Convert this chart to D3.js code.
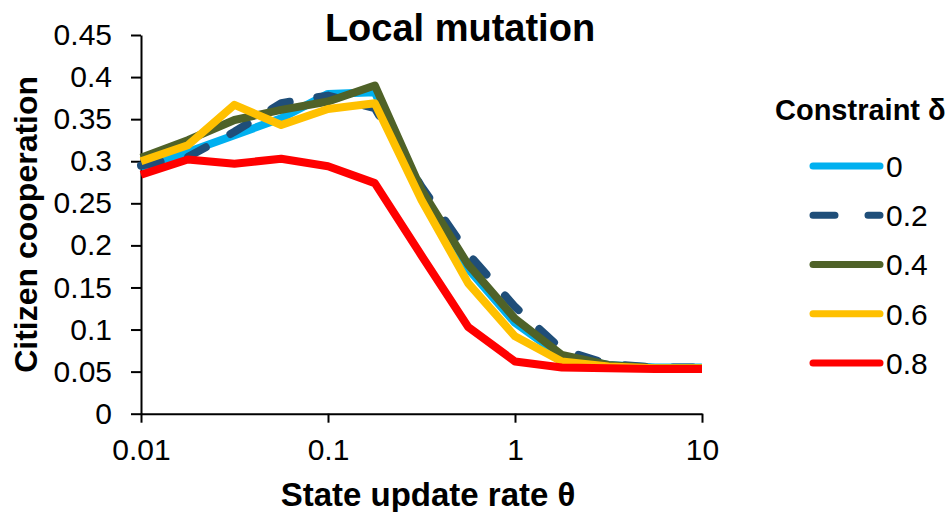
<!DOCTYPE html>
<html>
<head>
<meta charset="utf-8">
<script src="https://cdn.jsdelivr.net/npm/d3@7"></script>
<style>
	body { margin: 0; background: #fff; }
	svg text { font-family: "Liberation Sans", Arial, sans-serif; fill: #000; }
</style>
</head>
<body>
<div id="chart"></div>
<script>
/*global d3*/

//state update rate theta, 4 points per decade
var thetas = [0.01, 0.0178, 0.0316, 0.0562, 0.1, 0.178, 0.316, 0.562, 1, 1.78, 3.16, 5.62, 10];

//citizen cooperation for each constraint delta
var delta0  = [0.292, 0.311, 0.331, 0.351, 0.380, 0.382, 0.262, 0.172, 0.108, 0.068, 0.058, 0.055, 0.055];
var delta02 = [0.295, 0.305, 0.335, 0.369, 0.378, 0.363, 0.270, 0.190, 0.127, 0.076, 0.059, 0.055, 0.055];
var delta04 = [0.304, 0.325, 0.349, 0.361, 0.371, 0.390, 0.266, 0.177, 0.113, 0.070, 0.058, 0.054, 0.054];
var delta06 = [0.300, 0.319, 0.367, 0.343, 0.362, 0.369, 0.254, 0.155, 0.092, 0.062, 0.056, 0.054, 0.054];
var delta08 = [0.284, 0.302, 0.297, 0.303, 0.294, 0.274, 0.188, 0.103, 0.062, 0.055, 0.054, 0.053, 0.053];

var seriesNames = ["0", "0.2", "0.4", "0.6", "0.8"];
var seriesValues = [delta0, delta02, delta04, delta06, delta08];
var seriesColors = ["#00b0f0", "#1f4e79", "#4f6228", "#ffc000", "#ff0000"];
var seriesDashed = [false, true, false, false, false];

var xTickValues = [0.01, 0.1, 1, 10];
var xTickLabels = ["0.01", "0.1", "1", "10"];
var yTickValues = [0, 0.05, 0.1, 0.15, 0.2, 0.25, 0.3, 0.35, 0.4, 0.45];
var yTickLabels = ["0", "0.05", "0.1", "0.15", "0.2", "0.25", "0.3", "0.35", "0.4", "0.45"];

function drawChart(){
	var width = 946;
	var height = 512;

	var svg = d3.select("#chart").append("svg")
				.attr("width", width)
				.attr("height", height);

	//plot area
	var plotLeft = 141, plotRight = 702, plotTop = 35, plotBottom = 413.7;

	var x = d3.scaleLog().domain([0.01, 10]).range([plotLeft, plotRight]);
	var y = d3.scaleLinear().domain([0, 0.45]).range([plotBottom, plotTop]);

	//axes
	var xAxis = d3.axisBottom(x)
				.tickValues(xTickValues)
				.tickFormat(function(d, i){ return xTickLabels[i]; })
				.tickSize(9)
				.tickSizeOuter(0)
				.tickPadding(16);
	var yAxis = d3.axisLeft(y)
				.tickValues(yTickValues)
				.tickFormat(function(d, i){ return yTickLabels[i]; })
				.tickSize(10)
				.tickSizeOuter(0)
				.tickPadding(19);

	var xg = svg.append("g").attr("transform", "translate(0," + plotBottom + ")").call(xAxis);
	var yg = svg.append("g").attr("transform", "translate(" + plotLeft + ",0)").call(yAxis);

	[xg, yg].forEach(function(g){
		g.selectAll("path, line").attr("stroke", "#000").attr("stroke-width", 2);
		g.selectAll("text")
			.attr("fill", "#000")
			.style("font-size", "30px")
			.style("font-family", "'Liberation Sans', Arial, sans-serif");
	});

	//lines
	var line = d3.line()
				.x(function(d){ return x(d[0]); })
				.y(function(d){ return y(d[1]); });

	var lines = svg.append("g").attr("class", "series");
	seriesValues.forEach(function(vals, i){
		var pts = thetas.map(function(t, k){ return [t, vals[k]]; });
		var p = lines.append("path")
			.datum(pts)
			.attr("d", line)
			.attr("fill", "none")
			.attr("stroke", seriesColors[i])
			.attr("stroke-width", 8)
			.attr("stroke-linejoin", "round");
		if(seriesDashed[i]){
			p.attr("stroke-dasharray", "20,28")
			 .attr("stroke-linecap", "round");
		}
	});

	//titles
	svg.append("text")
		.attr("x", 460)
		.attr("y", 41)
		.attr("text-anchor", "middle")
		.style("font-size", "38px")
		.style("font-weight", "bold")
		.text("Local mutation");

	svg.append("text")
		.attr("x", 428)
		.attr("y", 506)
		.attr("text-anchor", "middle")
		.style("font-size", "33px")
		.style("font-weight", "bold")
		.text("State update rate \u03b8");

	svg.append("text")
		.attr("transform", "translate(37," + ((plotTop + plotBottom) / 2) + ") rotate(-90)")
		.attr("text-anchor", "middle")
		.style("font-size", "32px")
		.style("font-weight", "bold")
		.text("Citizen cooperation");

	//legend
	var legend = svg.append("g").attr("class", "legend");
	legend.append("text")
		.attr("x", 775)
		.attr("y", 120)
		.style("font-size", "29px")
		.style("font-weight", "bold")
		.text("Constraint \u03b4");

	var legendY = d3.scalePoint().domain(seriesNames).range([166, 363]);
	seriesNames.forEach(function(name, i){
		var ly = legendY(name);
		var l = legend.append("line")
			.attr("x1", 813).attr("x2", 880)
			.attr("y1", ly).attr("y2", ly)
			.attr("stroke", seriesColors[i])
			.attr("stroke-width", 7)
			.attr("stroke-linecap", "round");
		if(seriesDashed[i]){
			l.attr("stroke-dasharray", "22,33");
		}
		legend.append("text")
			.attr("x", 886)
			.attr("y", ly)
			.attr("dy", "0.36em")
			.style("font-size", "30px")
			.text(name);
	});
}

drawChart();
</script>
</body>
</html>
